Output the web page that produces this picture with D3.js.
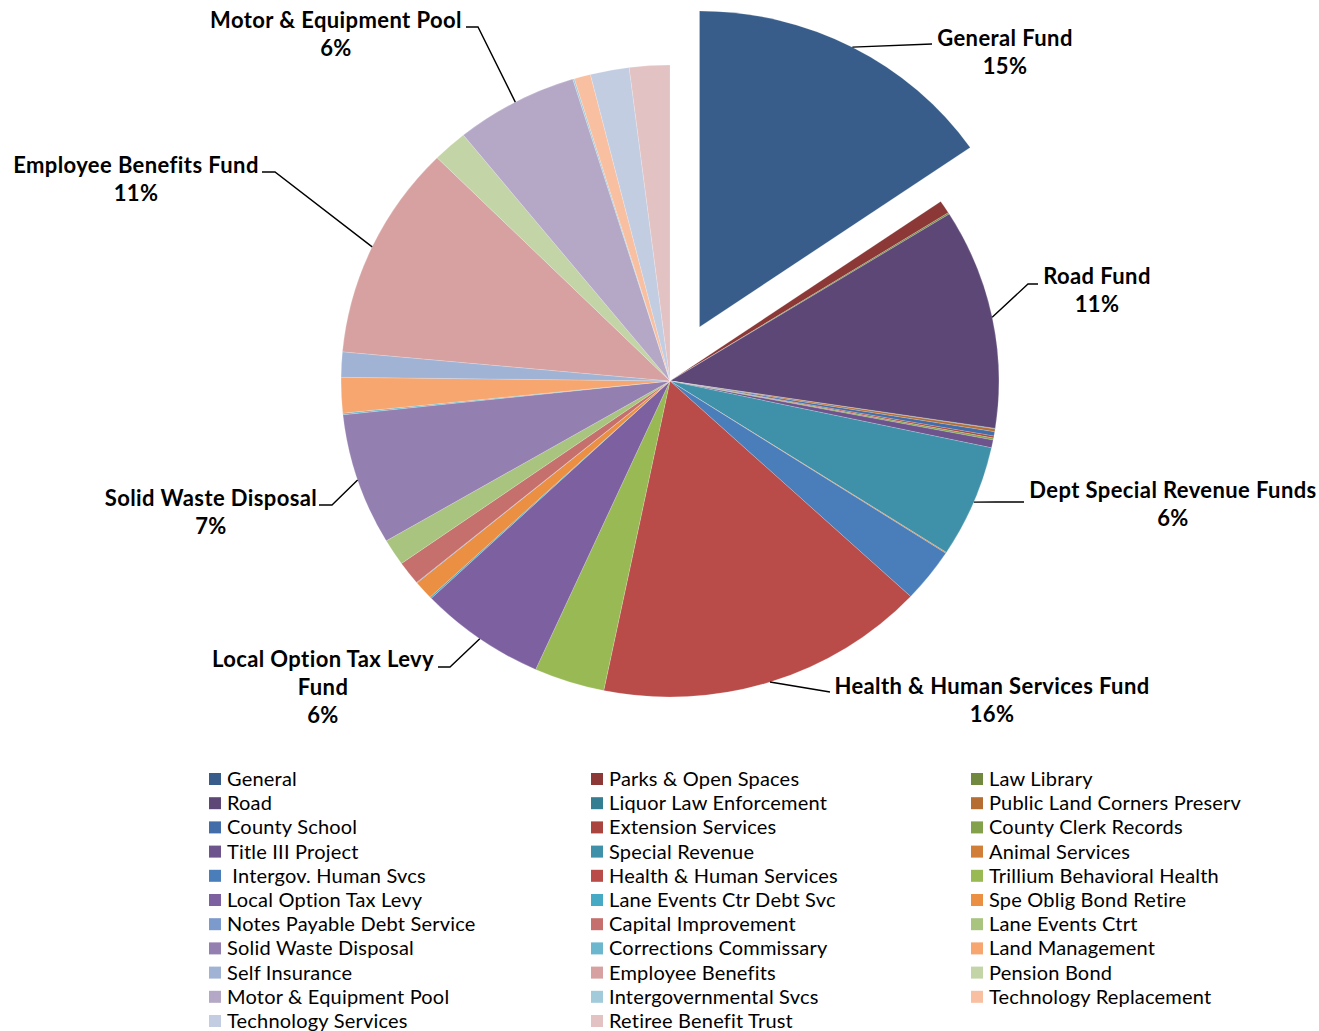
<!DOCTYPE html>
<html>
<head>
<meta charset="utf-8">
<script src="https://cdn.jsdelivr.net/npm/d3@7"></script>
<style>
	body { margin: 0; background: #fff; }
	text { font-family: Lato, "Liberation Sans", sans-serif; }
</style>
</head>
<body>
<div id="svg-container"></div>
<script>
// DATA
const funds = [
	"General", "Parks & Open Spaces", "Law Library",
	"Road", "Liquor Law Enforcement", "Public Land Corners Preserv",
	"County School", "Extension Services", "County Clerk Records",
	"Title III Project", "Special Revenue", "Animal Services",
	" Intergov. Human Svcs", "Health & Human Services", "Trillium Behavioral Health",
	"Local Option Tax Levy", "Lane Events Ctr Debt Svc", "Spe Oblig Bond Retire",
	"Notes Payable Debt Service", "Capital Improvement", "Lane Events Ctrt",
	"Solid Waste Disposal", "Corrections Commissary", "Land Management",
	"Self Insurance", "Employee Benefits", "Pension Bond",
	"Motor & Equipment Pool", "Intergovernmental Svcs", "Technology Replacement",
	"Technology Services", "Retiree Benefit Trust"
];
// share of total, percent
const shares = [
	15.3, 0.67, 0.08,
	11.2, 0.03, 0.14,
	0.22, 0.1, 0.1,
	0.4, 5.7, 0.05,
	2.75, 16.2, 3.45,
	6.2, 0.08, 0.95,
	0.03, 1.2, 1.35,
	6.7, 0.08, 1.8,
	1.28, 10.95, 1.7,
	6.0, 0.08, 0.8,
	1.9, 1.97
];
const colors = [
	"#385D8A", "#8C3836", "#71893F",
	"#5C4776", "#357D91", "#B66D31",
	"#426DA9", "#A9443F", "#82A14A",
	"#6E548D", "#3F91A9", "#D07E38",
	"#4A7EBB", "#B94B48", "#98B954",
	"#7D60A0", "#46AAC5", "#EB8F42",
	"#7C9ACC", "#C6706D", "#A9C47F",
	"#937FB0", "#6CB6CE", "#F6A66E",
	"#A1B3D5", "#D6A1A0", "#C3D4A7",
	"#B4A8C6", "#A1CADB", "#F8BFA0",
	"#C3CDE2", "#E3C2C3"
];
// data labels shown on the chart
const labelIndex = [0, 3, 10, 13, 15, 21, 25, 27];
const labelText = [
	["General Fund", "15%"],
	["Road Fund", "11%"],
	["Dept Special Revenue Funds", "6%"],
	["Health & Human Services Fund", "16%"],
	["Local Option Tax Levy", "Fund", "6%"],
	["Solid Waste Disposal", "7%"],
	["Employee Benefits Fund", "11%"],
	["Motor & Equipment Pool", "6%"]
];
// label layout: text centre x, first line y, elbow and end of the leader line
const labelLayout = [
	{ x: 1005, y: 38, elbow: [932, 44], end: [932, 44] },
	{ x: 1097, y: 276, elbow: [1028, 284], end: [1038, 284] },
	{ x: 1173, y: 490, elbow: [996, 502], end: [1024, 502] },
	{ x: 992, y: 686, elbow: [830, 692], end: [830, 692] },
	{ x: 323, y: 659, elbow: [450, 667], end: [438, 667] },
	{ x: 211, y: 498, elbow: [332, 505], end: [319, 505] },
	{ x: 136, y: 165, elbow: [275, 172], end: [262, 172] },
	{ x: 336, y: 20, elbow: [478, 27], end: [466, 27] }
];

// GRAPH
function graphData() {
	const w = 1319;
	const h = 1031;
	const cx = 670;
	const cy = 381;
	const r = 316;
	const sx = 1.041; // picture is a little wider than tall
	const explode = 61;

	const svg = d3.select("#svg-container")
		.append("svg")
		.attr("width", w)
		.attr("height", h);

	const pie = d3.pie().sort(null).value(d => d);
	const arcs = pie(shares);
	const arc = d3.arc().innerRadius(0).outerRadius(r);

	const offset = (d, i) => {
		if (i !== 0) return [0, 0];
		const a = (d.startAngle + d.endAngle) / 2;
		return [explode * Math.sin(a), -explode * Math.cos(a)];
	};

	const pieG = svg.append("g")
		.attr("transform", `translate(${cx}, ${cy}) scale(${sx}, 1)`);

	pieG.selectAll("path")
		.data(arcs)
		.enter()
		.append("path")
		.attr("d", arc)
		.attr("transform", (d, i) => {
			const o = offset(d, i);
			return `translate(${o[0]}, ${o[1]})`;
		})
		.style("fill", (d, i) => colors[i])
		.style("stroke", "#fff")
		.style("stroke-width", 0.3)
		.style("stroke-opacity", 0.6);

	// leader lines
	const edge = (i) => {
		const d = arcs[i];
		const a = (d.startAngle + d.endAngle) / 2;
		const o = offset(d, i);
		return [
			cx + sx * (o[0] + r * Math.sin(a)),
			cy + o[1] - r * Math.cos(a)
		];
	};
	labelIndex.forEach((idx, k) => {
		const p = edge(idx);
		const L = labelLayout[k];
		svg.append("path")
			.attr("d", d3.line()([p, L.elbow, L.end]))
			.style("fill", "none")
			.style("stroke", "#000")
			.style("stroke-width", 1.4);
		const t = svg.append("text")
			.attr("text-anchor", "middle")
			.style("font-size", "22px")
			.style("letter-spacing", "0.4px")
			.style("font-weight", "bold")
			.style("fill", "#000");
		labelText[k].forEach((line, j) => {
			t.append("tspan")
				.attr("x", L.x)
				.attr("y", L.y + j * 28.3)
				.attr("dy", "0.35em")
				.text(line);
		});
	});

	// legend
	const colX = [209, 591, 971];
	const legend = svg.append("g");
	funds.forEach((name, i) => {
		const row = Math.floor(i / 3);
		const col = i % 3;
		const y = 779 + row * 24.2;
		legend.append("rect")
			.attr("x", colX[col])
			.attr("y", y - 6)
			.attr("width", 12)
			.attr("height", 12)
			.style("fill", colors[i]);
		legend.append("text")
			.attr("x", colX[col] + 18)
			.attr("y", y)
			.attr("dy", "0.35em")
			.attr("xml:space", "preserve")
			.style("white-space", "pre")
			.style("font-size", "20px")
			.style("letter-spacing", "0.2px")
			.style("fill", "#000")
			.text(name);
	});
}

document.addEventListener('DOMContentLoaded', () => {
	graphData();
});
</script>
</body>
</html>
